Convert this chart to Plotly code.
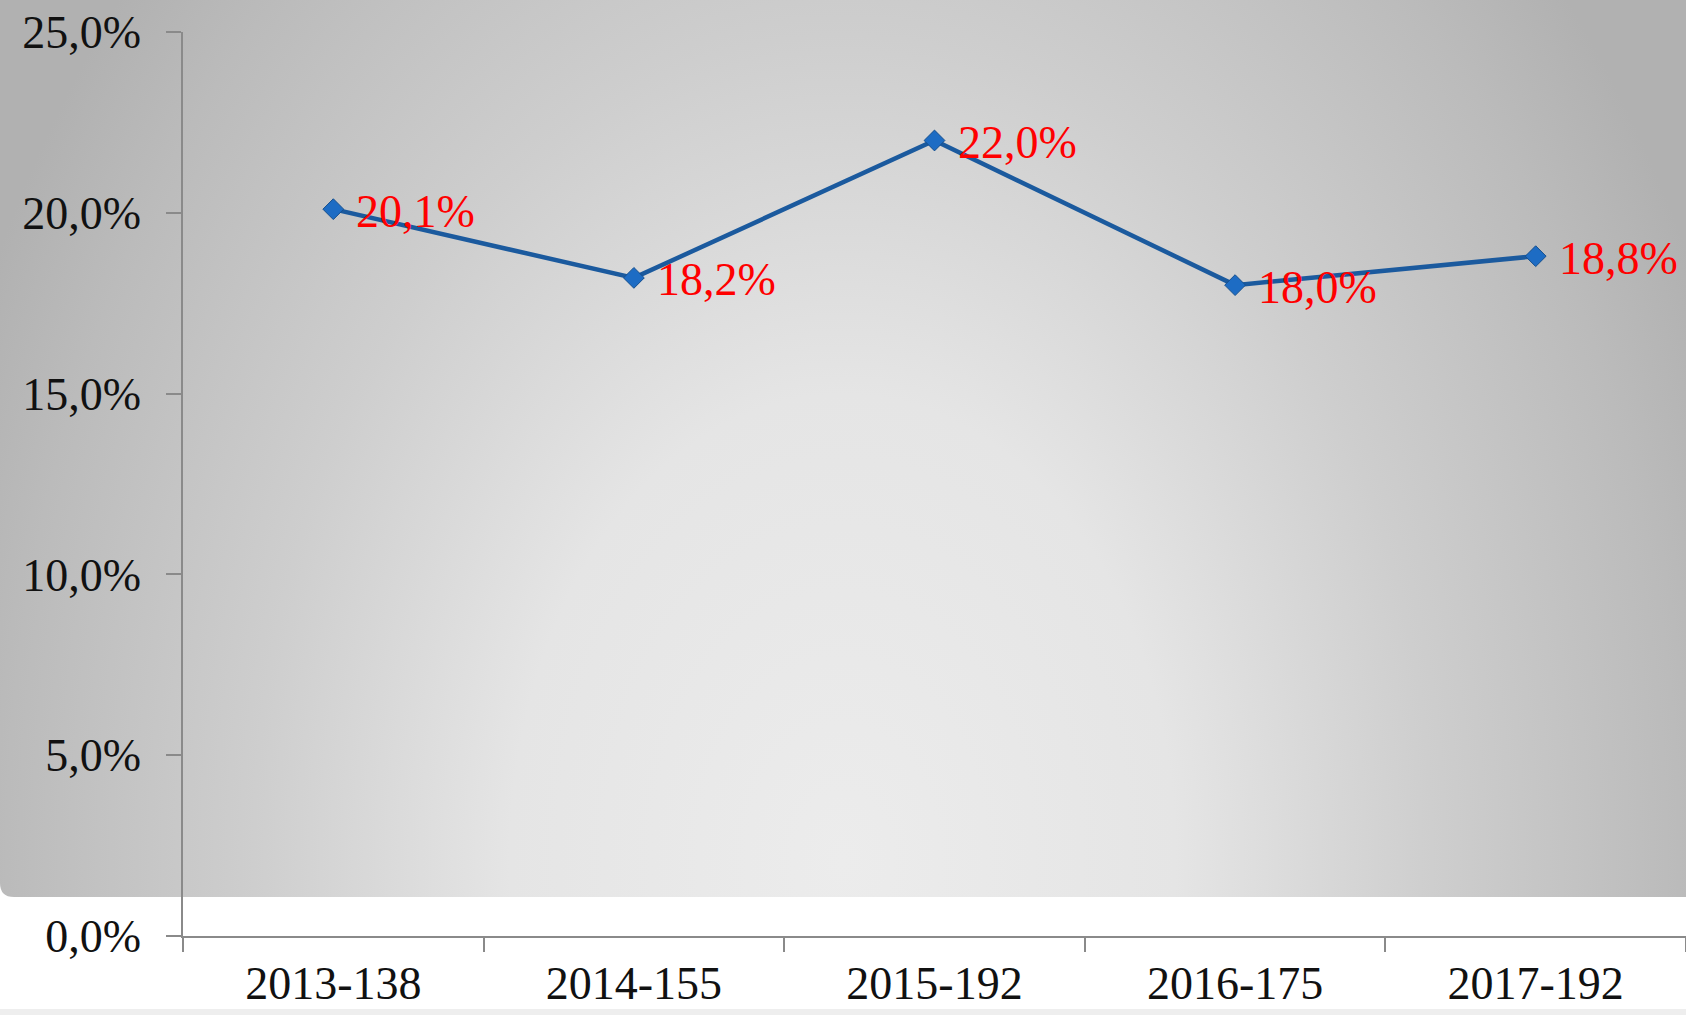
import base64
import plotly.graph_objects as go

# ---- data ----
categories = ["2013-138", "2014-155", "2015-192", "2016-175", "2017-192"]
values = [20.1, 18.2, 22.0, 18.0, 18.8]
y_tick_vals = [0, 5, 10, 15, 20, 25]
y_tick_text = ["0,0%", "5,0%", "10,0%", "15,0%", "20,0%", "25,0%"]

W, H = 1686, 1015
ML, MR, MT, MB = 183, 0, 32, 79
PW, PH = W - ML - MR, H - MT - MB
FONT = "Liberation Serif"

# gradient backdrop (svg data uri)
GH = 897
svg = f'''<svg xmlns="http://www.w3.org/2000/svg" width="{W}" height="{GH}" viewBox="0 0 {W} {GH}">
<defs><radialGradient id="g" gradientUnits="userSpaceOnUse" cx="843" cy="860" r="950"
 gradientTransform="translate(843,860) scale(1,1.4) translate(-843,-860)">
<stop offset="0" stop-color="#ececec"/><stop offset="0.35" stop-color="#e5e5e5"/>
<stop offset="0.62" stop-color="#cecece"/><stop offset="0.88" stop-color="#bbbbbb"/>
<stop offset="1" stop-color="#b1b1b1"/></radialGradient></defs>
<path d="M0,0 H{W} V{GH} H14 Q0,{GH} 0,{GH-14} Z" fill="url(#g)"/></svg>'''
src = "data:image/svg+xml;base64," + base64.b64encode(svg.encode()).decode()

fig = go.Figure()
fig.add_trace(go.Scatter(
    x=categories, y=values, mode="lines+markers",
    line=dict(color="#1b5a9e", width=4.5),
    marker=dict(symbol="diamond", size=16, color="#1d6cc4",
                line=dict(color="#154f8e", width=1)),
    cliponaxis=False, showlegend=False, hoverinfo="skip",
))

for c, v in zip(categories, values):
    fig.add_annotation(
        x=c, y=v, text=f"{v:.1f}%".replace(".", ","), showarrow=False,
        xanchor="left", yanchor="middle", xshift=21, yshift=-2,
        font=dict(family=FONT, size=46, color="#ff0000"),
    )

fig.add_layout_image(dict(
    source=src, xref="paper", yref="paper",
    x=-ML / PW, y=(H - MB) / PH, sizex=W / PW, sizey=GH / PH,
    xanchor="left", yanchor="top", sizing="stretch", layer="below",
))

fig.add_shape(type="rect", xref="paper", yref="paper",
              x0=-ML / PW, x1=1, y0=-(MB) / PH, y1=-(MB - 6) / PH,
              fillcolor="#eeeeee", line=dict(width=0), layer="below")

fig.update_layout(
    width=W, height=H,
    margin=dict(l=ML, r=MR, t=MT, b=MB, autoexpand=False),
    paper_bgcolor="white", plot_bgcolor="rgba(0,0,0,0)",
    font=dict(family=FONT, size=46, color="#111111"),
    xaxis=dict(
        type="category", range=[-0.5, len(categories) - 0.5], automargin=False,
        showgrid=False, zeroline=False, showline=True, linecolor="#8a8a8a", linewidth=1.5,
        ticks="outside", tickson="boundaries", ticklen=14, tickcolor="#8a8a8a", tickwidth=1.5,
        ticklabelstandoff=6, tickfont=dict(family=FONT, size=46, color="#111111"),
    ),
    yaxis=dict(
        range=[0, 25], tickvals=y_tick_vals, ticktext=y_tick_text, automargin=False,
        showgrid=False, zeroline=False, showline=True, linecolor="#8a8a8a", linewidth=1.5,
        ticks="outside", ticklen=15, tickcolor="#8a8a8a", tickwidth=1.5,
        ticklabelstandoff=16, tickfont=dict(family=FONT, size=46, color="#111111"),
    ),
)

fig.write_html("out.html", config={"displayModeBar": False},
               post_script="document.body.style.margin='0';document.body.style.overflow='hidden';")
